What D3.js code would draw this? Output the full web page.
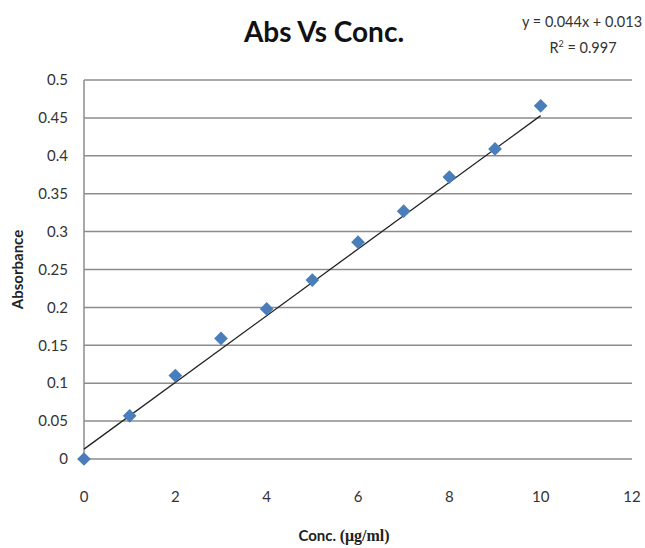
<!DOCTYPE html>
<html>
<head>
<meta charset="utf-8">
<script src="https://cdn.jsdelivr.net/npm/d3@7"></script>
<style>
  body { margin: 0; background: #fff; }
  svg { display: block; }
  text { font-family: Lato, "Open Sans", sans-serif; }
</style>
</head>
<body>
<svg id="chart" width="645" height="548"></svg>
<script>
// Calibration data: concentration (µg/ml) vs absorbance
const concentration = [0, 1, 2, 3, 4, 5, 6, 7, 8, 9, 10];
const absorbance = [0, 0.057, 0.110, 0.159, 0.198, 0.236, 0.286, 0.327, 0.372, 0.409, 0.466];

// Linear trendline shown on the chart
const slope = 0.044;
const intercept = 0.013;
const rSquared = 0.997;

const xTicks = [0, 2, 4, 6, 8, 10, 12];
const yTicks = [0, 0.05, 0.1, 0.15, 0.2, 0.25, 0.3, 0.35, 0.4, 0.45, 0.5];

const svg = d3.select("#chart");
const margin = { left: 84, right: 13, top: 80, bottom: 89 };
const W = 645, H = 548;

const x = d3.scaleLinear().domain([0, 12]).range([margin.left, W - margin.right]);
const y = d3.scaleLinear().domain([0, 0.5]).range([H - margin.bottom, margin.top]);

// horizontal gridlines
svg.append("g")
  .selectAll("line")
  .data(yTicks)
  .join("line")
  .attr("x1", x(0)).attr("x2", x(12))
  .attr("y1", d => y(d)).attr("y2", d => y(d))
  .attr("stroke", "#8c8c8c")
  .attr("stroke-width", 1.5);

// left axis line
svg.append("line")
  .attr("x1", x(0)).attr("x2", x(0))
  .attr("y1", y(0)).attr("y2", y(0.5))
  .attr("stroke", "#8c8c8c")
  .attr("stroke-width", 1.5);

// y tick labels
svg.append("g")
  .selectAll("text")
  .data(yTicks)
  .join("text")
  .attr("x", 68)
  .attr("y", d => y(d))
  .attr("dy", "0.35em")
  .attr("text-anchor", "end")
  .attr("font-size", 15)
  .attr("fill", "#333")
  .text(d => d3.format("")(d));

// x tick labels
svg.append("g")
  .selectAll("text")
  .data(xTicks)
  .join("text")
  .attr("x", d => x(d))
  .attr("y", 502)
  .attr("text-anchor", "middle")
  .attr("font-size", 15)
  .attr("fill", "#333")
  .text(d => d);

// trendline
svg.append("line")
  .attr("x1", x(0)).attr("y1", y(intercept))
  .attr("x2", x(10)).attr("y2", y(intercept + slope * 10))
  .attr("stroke", "#222")
  .attr("stroke-width", 1.3);

// data markers (diamonds)
svg.append("g")
  .selectAll("path")
  .data(concentration.map((c, i) => [c, absorbance[i]]))
  .join("path")
  .attr("transform", d => `translate(${x(d[0])},${y(d[1])})`)
  .attr("d", d3.symbol(d3.symbolDiamond2, 120)())
  .attr("fill", "#4a7ebb");

// title
svg.append("text")
  .attr("x", 324).attr("y", 42)
  .attr("text-anchor", "middle")
  .attr("font-size", 28)
  .attr("font-weight", "bold")
  .attr("fill", "#111")
  .text("Abs Vs Conc.");

// trendline equation
svg.append("text")
  .attr("x", 582).attr("y", 27)
  .attr("text-anchor", "middle")
  .attr("font-size", 14.5)
  .attr("fill", "#333")
  .text(`y = ${slope}x + ${intercept}`);

const r2 = svg.append("text")
  .attr("x", 583).attr("y", 53)
  .attr("text-anchor", "middle")
  .attr("font-size", 14.5)
  .attr("fill", "#333");
r2.append("tspan").text("R");
r2.append("tspan").attr("font-size", 9).attr("dy", -6).text("2");
r2.append("tspan").attr("dy", 6).text(` = ${rSquared}`);

// axis titles
svg.append("text")
  .attr("transform", `translate(23,${y(0.25)}) rotate(-90)`)
  .attr("text-anchor", "middle")
  .attr("font-size", 15)
  .attr("font-weight", "bold")
  .attr("fill", "#222")
  .text("Absorbance");

const xt = svg.append("text")
  .attr("x", 344).attr("y", 541)
  .attr("text-anchor", "middle")
  .attr("font-size", 15)
  .attr("font-weight", "bold")
  .attr("fill", "#222");
xt.append("tspan").text("Conc. ");
xt.append("tspan").attr("font-family", "Liberation Serif, serif").attr("font-size", 16).text("(μg/ml)");
</script>
</body>
</html>
